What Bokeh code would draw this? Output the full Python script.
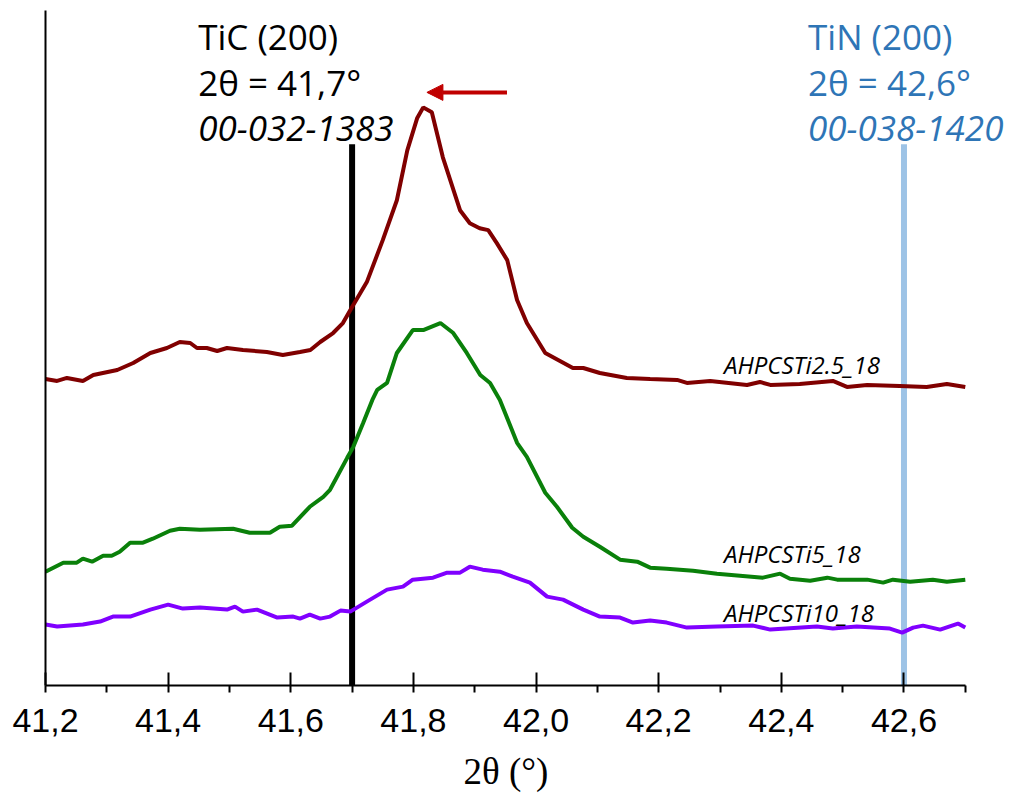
from bokeh.plotting import figure
from bokeh.models import (Range1d, SingleIntervalTicker, CustomJSTickFormatter, FixedTicker,
                          Label, Arrow, NormalHead, Title)
from bokeh.embed import file_html
from bokeh.resources import INLINE

# ---------------- data (2theta in degrees, intensity in a.u.) ----------------
tt_25 = [41.200, 41.219, 41.235, 41.261, 41.278, 41.317, 41.343, 41.371, 41.398, 41.419,
         41.436, 41.447, 41.463, 41.480, 41.496, 41.522, 41.561, 41.587, 41.615, 41.632,
         41.648, 41.669, 41.685, 41.700, 41.724, 41.750, 41.773, 41.790, 41.806, 41.816,
         41.830, 41.848, 41.876, 41.892, 41.908, 41.922, 41.936, 41.953, 41.969, 41.985,
         42.015, 42.042, 42.060, 42.077, 42.104, 42.148, 42.186, 42.230, 42.246, 42.284,
         42.344, 42.365, 42.382, 42.430, 42.484, 42.507, 42.540, 42.593, 42.637, 42.670,
         42.700]
int_25 = [307, 305, 308, 305, 311, 316, 323, 333, 338, 344,
          343, 338, 338, 335, 338, 336, 334, 331, 334, 336,
          344, 353, 363, 379, 404, 446, 486, 536, 568, 579,
          574, 529, 476, 463, 458, 456, 443, 426, 386, 363,
          333, 324, 318, 318, 313, 308, 307, 306, 303, 305,
          301, 304, 301, 302, 305, 299, 301, 300, 299, 302,
          299]

tt_5 = [41.200, 41.229, 41.251, 41.261, 41.276, 41.294, 41.308, 41.321, 41.338, 41.359,
        41.375, 41.403, 41.419, 41.452, 41.506, 41.533, 41.566, 41.582, 41.602, 41.631,
        41.653, 41.664, 41.692, 41.702, 41.718, 41.733, 41.741, 41.757, 41.773, 41.799,
        41.816, 41.844, 41.865, 41.887, 41.909, 41.925, 41.941, 41.969, 41.985, 42.015,
        42.034, 42.059, 42.077, 42.104, 42.137, 42.165, 42.186, 42.213, 42.256, 42.295,
        42.370, 42.398, 42.414, 42.447, 42.475, 42.491, 42.540, 42.566, 42.582, 42.610,
        42.647, 42.670, 42.700]
int_5 = [114, 123, 123, 127, 124, 130, 130, 134, 143, 143,
         147, 155, 157, 156, 157, 153, 153, 159, 160, 179,
         189, 196, 228, 239, 263, 286, 296, 303, 333, 356,
         356, 363, 353, 333, 311, 303, 286, 243, 229, 193,
         179, 158, 149, 139, 126, 124, 118, 117, 115, 112,
         108, 112, 107, 105, 108, 106, 106, 103, 106, 104,
         106, 104, 106]

tt_10 = [41.200, 41.219, 41.261, 41.289, 41.310, 41.338, 41.371, 41.400, 41.424, 41.452,
         41.496, 41.509, 41.522, 41.545, 41.578, 41.604, 41.615, 41.631, 41.648, 41.664,
         41.681, 41.697, 41.724, 41.757, 41.783, 41.799, 41.832, 41.855, 41.876, 41.892,
         41.913, 41.941, 41.962, 41.990, 42.018, 42.044, 42.077, 42.104, 42.137, 42.158,
         42.186, 42.213, 42.246, 42.295, 42.354, 42.382, 42.458, 42.484, 42.523, 42.577,
         42.597, 42.615, 42.631, 42.659, 42.688, 42.700]
int_10 = [61, 59, 61, 64, 69, 69, 76, 81, 77, 78,
          76, 79, 74, 76, 68, 69, 67, 71, 67, 69,
          75, 74, 84, 96, 99, 106, 108, 113, 113, 119,
          116, 114, 109, 103, 89, 86, 76, 69, 68, 63,
          65, 63, 58, 59, 60, 56, 59, 57, 59, 57,
          53, 58, 60, 56, 62, 58]

series_names = ["AHPCSTi2.5_18", "AHPCSTi5_18", "AHPCSTi10_18"]
series_colors = ["#800000", "#0A800A", "#8000FF"]

ref_names = ["TiC (200)", "TiN (200)"]
ref_angles = [41.7, 42.6]
ref_angle_text = ["2θ = 41,7°", "2θ = 42,6°"]
ref_cards = ["00-032-1383", "00-038-1420"]
ref_colors = ["#000000", "#9DC3E6"]
ref_text_colors = ["#000000", "#2E75B6"]

x_min, x_max = 41.2, 42.7

# ---------------- figure ----------------
# frame is widened past 42.7 so the TiN labels are not clipped; the axis is bounded to the data range
p = figure(width=1012, height=805, output_backend="svg", toolbar_location=None,
           x_range=Range1d(x_min, 41.2 + 965 / 613.2), y_range=Range1d(0, 676),
           min_border_left=45, min_border_right=2, min_border_top=10, min_border_bottom=119)
p.outline_line_color = None
p.xgrid.visible = False
p.ygrid.visible = False
p.background_fill_color = "white"
p.border_fill_color = "white"

# reference lines (drawn first)
ref_top = 542
p.segment(x0=ref_angles, y0=[0, 0], x1=ref_angles, y1=[ref_top, ref_top],
          line_color=ref_colors, line_width=6)

# curves
for tt, it, c in zip([tt_25, tt_5, tt_10], [int_25, int_5, int_10], series_colors):
    p.line(tt, it, line_color=c, line_width=4)

# x axis
xa = p.xaxis[0]
xa.bounds = (x_min, x_max)
xa.ticker = SingleIntervalTicker(interval=0.2, num_minor_ticks=2)
xa.formatter = CustomJSTickFormatter(code="return tick.toFixed(1).replace('.', ',');")
xa.axis_line_width = 2
xa.axis_line_color = "black"
xa.major_tick_in = 13
xa.major_tick_out = 0
xa.major_tick_line_width = 2
xa.minor_tick_in = 0
xa.minor_tick_out = 7
xa.minor_tick_line_width = 2
xa.minor_tick_line_color = "black"
xa.major_label_text_font = "Liberation Sans"
xa.major_label_text_font_size = "34px"
xa.major_label_text_color = "black"
xa.major_label_standoff = 16

# x-axis title, centred under the 41.2-42.7 axis rather than the widened frame
p.add_layout(Title(text="2θ (°)", align="left", offset=418, text_font="Liberation Serif",
                   text_font_size="37px", text_font_style="normal", text_color="black",
                   standoff=28), "below")

# y axis: bare line
ya = p.yaxis[0]
ya.ticker = FixedTicker(ticks=[])
ya.axis_line_width = 2
ya.axis_line_color = "black"
ya.major_tick_line_color = None
ya.minor_tick_line_color = None

# reference annotations
ref_text_x = [41.449, 42.4435]
for i in range(2):
    for txt, yy, style in [(ref_names[i], 650, "normal"), (ref_angle_text[i], 604, "normal"),
                           (ref_cards[i], 558, "italic")]:
        p.add_layout(Label(x=ref_text_x[i], y=yy, text=txt, text_font="Open Sans",
                           text_font_size="35px", text_font_style=style,
                           text_color=ref_text_colors[i], text_baseline="alphabetic",
                           text_align="left"))

# series labels
lab_x = 42.3065
for name, yy in zip(series_names, [321, 132, 73]):
    p.add_layout(Label(x=lab_x, y=yy, text=name, text_font="Open Sans", text_font_size="24px",
                       text_font_style="italic", text_color="black",
                       text_baseline="alphabetic", text_align="left"))

# shift arrow
p.add_layout(Arrow(x_start=41.9526, y_start=594, x_end=41.822, y_end=594,
                   line_color="#C00000", line_width=4,
                   end=NormalHead(size=16, fill_color="#C00000", line_color="#C00000")))

open("out.html", "w").write(file_html(p, INLINE))
